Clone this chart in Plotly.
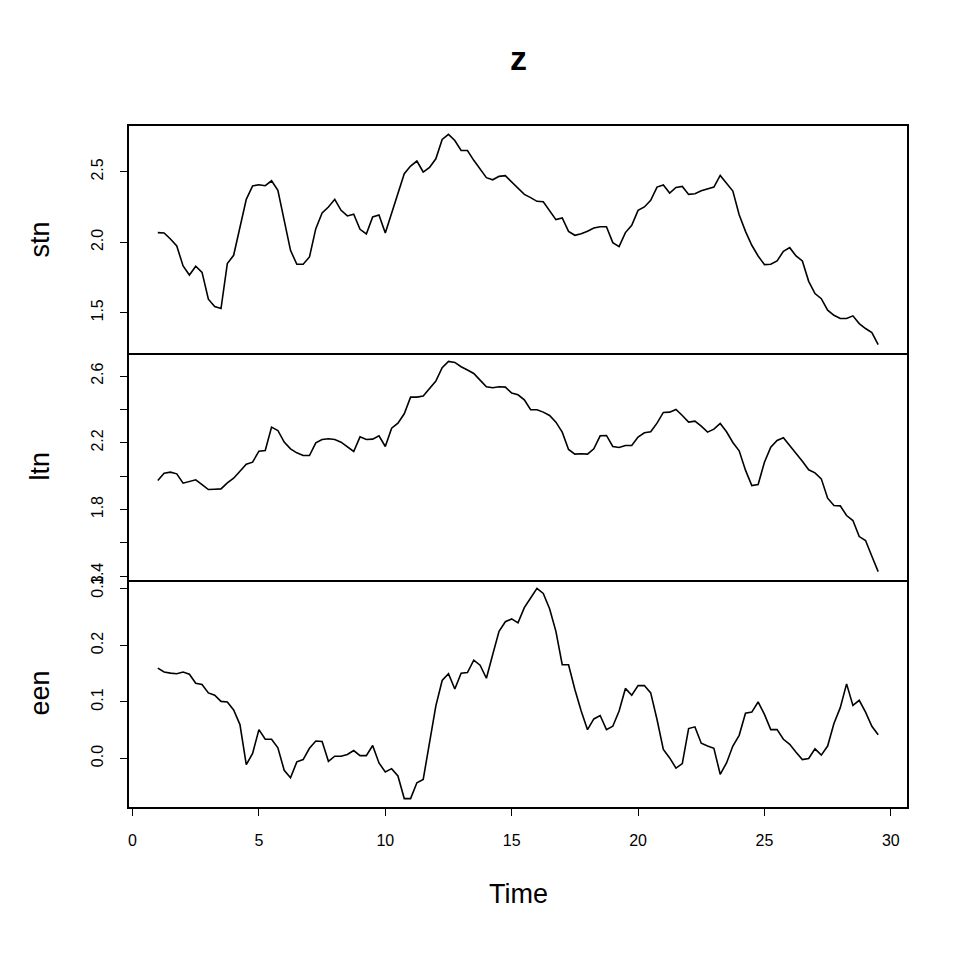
import plotly.graph_objects as go
from plotly.subplots import make_subplots

# quarterly series starting at time 1
t_start = 1.0
freq = 4
n_obs = 115
time = [t_start + i / freq for i in range(n_obs)]

stn = [2.069, 2.066, 2.024, 1.974, 1.832, 1.768, 1.830, 1.787, 1.596, 1.544,
       1.530, 1.849, 1.908, 2.109, 2.305, 2.400, 2.409, 2.402, 2.437, 2.369,
       2.156, 1.943, 1.844, 1.844, 1.896, 2.097, 2.208, 2.251,
       2.305, 2.227, 2.187, 2.199, 2.092, 2.059, 2.180, 2.194, 2.066, 2.206,
       2.347, 2.487, 2.541, 2.577, 2.499, 2.532, 2.593, 2.730, 2.766, 2.723,
       2.652, 2.652, 2.582, 2.518, 2.459, 2.444, 2.468, 2.473, 2.428, 2.385,
       2.340, 2.317, 2.291, 2.288, 2.227, 2.161, 2.173, 2.078, 2.050, 2.061,
       2.078, 2.102, 2.111, 2.111, 1.998, 1.969, 2.069, 2.121, 2.227, 2.251,
       2.298, 2.392, 2.407, 2.350, 2.390, 2.397, 2.340, 2.345, 2.366, 2.378,
       2.392, 2.475, 2.423, 2.364, 2.196, 2.078, 1.979, 1.903, 1.842, 1.844,
       1.868, 1.936, 1.962, 1.903, 1.868, 1.723, 1.636, 1.600, 1.518, 1.482,
       1.459, 1.459, 1.478, 1.423, 1.388, 1.359, 1.274]

ltn = [1.974, 2.018, 2.024, 2.014, 1.958, 1.968, 1.978, 1.950, 1.920, 1.922,
       1.924, 1.960, 1.988, 2.030, 2.072, 2.084, 2.150, 2.154, 2.294, 2.274,
       2.204, 2.164, 2.140, 2.124, 2.124, 2.200, 2.220, 2.224,
       2.220, 2.204, 2.178, 2.148, 2.236, 2.220, 2.222, 2.242, 2.178, 2.288,
       2.318, 2.374, 2.474, 2.474, 2.480, 2.528, 2.570, 2.650, 2.688, 2.682,
       2.656, 2.636, 2.616, 2.576, 2.536, 2.530, 2.536, 2.534, 2.498, 2.488,
       2.458, 2.398, 2.398, 2.384, 2.364, 2.324, 2.264, 2.160, 2.132, 2.134,
       2.132, 2.164, 2.242, 2.244, 2.178, 2.172, 2.184, 2.184, 2.234, 2.260,
       2.266, 2.318, 2.382, 2.384, 2.400, 2.364, 2.324, 2.330, 2.300, 2.264,
       2.282, 2.316, 2.266, 2.202, 2.152, 2.036, 1.944, 1.950, 2.084, 2.174,
       2.214, 2.230, 2.184, 2.138, 2.090, 2.038, 2.020, 1.984, 1.868, 1.824,
       1.822, 1.764, 1.734, 1.638, 1.614, 1.520, 1.428]

een = [0.160, 0.153, 0.151, 0.150, 0.153, 0.149, 0.133, 0.131, 0.116, 0.112,
       0.101, 0.100, 0.086, 0.060, -0.011, 0.009, 0.051, 0.034, 0.034, 0.019,
       -0.021, -0.034, -0.006, -0.002, 0.018, 0.031, 0.030, -0.005,
       0.004, 0.004, 0.007, 0.014, 0.005, 0.005, 0.023, -0.008, -0.024, -0.018,
       -0.031, -0.071, -0.071, -0.043, -0.037, 0.028, 0.093, 0.138, 0.150, 0.123,
       0.151, 0.152, 0.174, 0.165, 0.142, 0.184, 0.225, 0.242, 0.247, 0.240,
       0.267, 0.284, 0.301, 0.292, 0.265, 0.225, 0.166, 0.166, 0.122, 0.084,
       0.051, 0.070, 0.076, 0.051, 0.057, 0.084, 0.124, 0.112, 0.129, 0.129,
       0.116, 0.069, 0.016, 0.001, -0.017, -0.009, 0.053, 0.056, 0.027, 0.022,
       0.018, -0.028, -0.008, 0.022, 0.041, 0.080, 0.082, 0.100, 0.078, 0.051,
       0.051, 0.034, 0.025, 0.011, -0.002, 0.000, 0.017, 0.006, 0.022, 0.062,
       0.090, 0.132, 0.094, 0.103, 0.082, 0.057, 0.042]

series_names = ["stn", "ltn", "een"]
series = [stn, ltn, een]

y_tickvals = [[1.5, 2.0, 2.5],
              [1.4, 1.6, 1.8, 2.0, 2.2, 2.4, 2.6],
              [0.0, 0.1, 0.2, 0.3]]
y_ticktext = [["1.5", "2.0", "2.5"],
              ["1.4", "", "1.8", "", "2.2", "", "2.6"],
              ["0.0", "0.1", "0.2", "0.3"]]
x_tickvals = [0, 5, 10, 15, 20, 25, 30]

FONT = "Liberation Sans, Arial, Helvetica, sans-serif"


def padded(lo, hi, frac=0.04):
    d = (hi - lo) * frac
    return [lo - d, hi + d]


fig = make_subplots(rows=3, cols=1, shared_xaxes=True, vertical_spacing=0)

for i, vals in enumerate(series):
    fig.add_trace(go.Scatter(x=time, y=vals, mode="lines",
                             line=dict(color="black", width=1.6),
                             hoverinfo="skip", showlegend=False),
                  row=i + 1, col=1)
    fig.update_yaxes(range=padded(min(vals), max(vals)),
                     tickvals=y_tickvals[i], ticktext=y_ticktext[i],
                     tickangle=-90, ticks="outside", ticklen=7, tickwidth=1,
                     tickcolor="black", showline=True, linecolor="black",
                     linewidth=1.5, mirror=True, showgrid=False, zeroline=False,
                     tickfont=dict(family=FONT, size=16, color="black"),
                     ticklabelstandoff=11,
                     row=i + 1, col=1)

xr = padded(min(time), max(time))
for i in range(3):
    fig.update_xaxes(range=xr, showline=True, linecolor="black", linewidth=1.5,
                     mirror=(i == 0), showgrid=False, zeroline=False,
                     showticklabels=(i == 2), ticks=("outside" if i == 2 else ""),
                     row=i + 1, col=1)
fig.update_xaxes(tickvals=x_tickvals, ticklen=7, tickwidth=1, tickcolor="black",
                 tickfont=dict(family=FONT, size=16, color="black"),
                 ticklabelstandoff=11, row=3, col=1)

annotations = []
for i, nm in enumerate(series_names):
    dom_lo = (2 - i) / 3
    annotations.append(dict(text=nm, xref="paper", yref="paper",
                            x=(39 - 129) / 778, y=dom_lo + 1 / 6,
                            xanchor="center", yanchor="middle", textangle=-90,
                            showarrow=False,
                            font=dict(family=FONT, size=27, color="black")))
annotations.append(dict(text="Time", xref="paper", yref="paper",
                        x=0.5, y=-(894 - 807) / 681, xanchor="center",
                        yanchor="middle", showarrow=False,
                        font=dict(family=FONT, size=27, color="black")))
annotations.append(dict(text="<b>z</b>", xref="paper", yref="paper",
                        x=0.5, y=1 + (126 - 58) / 681, xanchor="center",
                        yanchor="middle", showarrow=False,
                        font=dict(family=FONT, size=34, color="black")))

fig.update_layout(width=960, height=960,
                  margin=dict(l=129, r=53, t=126, b=153),
                  paper_bgcolor="white", plot_bgcolor="white",
                  showlegend=False, annotations=annotations)

fig.write_html("out.html")
